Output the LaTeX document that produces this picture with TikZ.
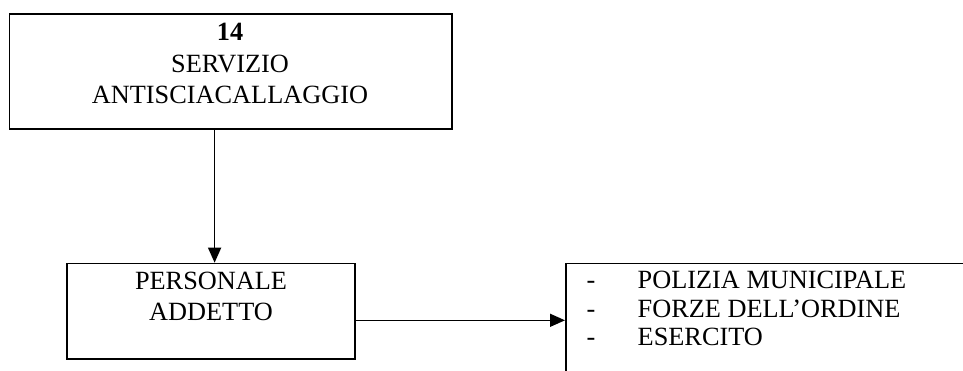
\documentclass[tikz,border=0pt]{standalone}
\usepackage{fontspec}
\setmainfont{Liberation Serif}
\usetikzlibrary{arrows.meta}
\begin{document}
\begin{tikzpicture}[x=1pt,y=-1pt,
  box/.style={draw=black,line width=1.7pt,rectangle,inner sep=0pt,anchor=north west},
  txt/.style={inner sep=0pt,font=\fontsize{26.3}{30}\selectfont},
  arr/.style={line width=1.4pt,-{Triangle[length=15pt,width=13pt]}}]
\useasboundingbox (0,0) rectangle (963,371);
% boxes
\node[box,minimum width=442.5pt,minimum height=115pt] (srv) at (8.5,13) {};
\node[box,minimum width=288pt,minimum height=95.5pt] (pers) at (66,262.7) {};
\node[box,minimum width=404pt,minimum height=115pt] (lst) at (565,262.7) {};
% service box text
\node[txt,anchor=base] (srvnum) at (230,41) {\textbf{14}};
\node[txt,anchor=base] (srvl1) at (230,72.5) {SERVIZIO};
\node[txt,anchor=base] (srvl2) at (230,104) {ANTISCIACALLAGGIO};
% staff box text
\node[txt,anchor=base] (persl1) at (211,289) {PERSONALE};
\node[txt,anchor=base] (persl2) at (211,320) {ADDETTO};
% list of bodies
\node[txt,anchor=base] (d1) at (591,288) {-};
\node[txt,anchor=base] (d2) at (591,317) {-};
\node[txt,anchor=base] (d3) at (591,345) {-};
\node[txt,anchor=base west] (i1) at (637.5,288) {POLIZIA MUNICIPALE};
\node[txt,anchor=base west] (i2) at (637.5,317) {FORZE DELL’ORDINE};
\node[txt,anchor=base west] (i3) at (637.5,345) {ESERCITO};
% connectors
\draw[arr] ([xshift=-16pt]srv.south) -- ([xshift=-16pt]srv.south |- pers.north);
\draw[arr] ([yshift=-9pt]pers.east) -- ([yshift=-9pt]pers.east -| lst.west);
\end{tikzpicture}
\end{document}
